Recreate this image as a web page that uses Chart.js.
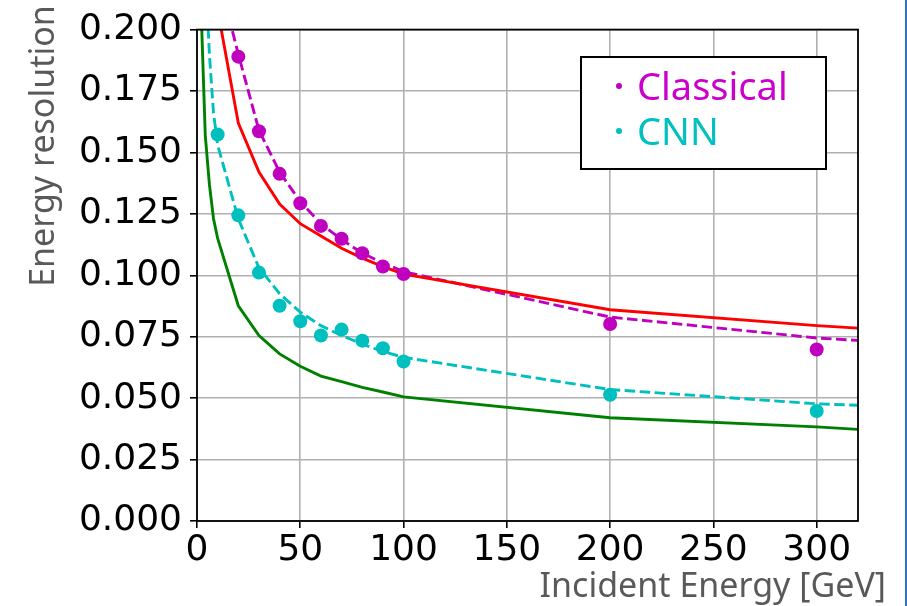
<!DOCTYPE html>
<html><head><meta charset="utf-8">
<script src="https://cdn.jsdelivr.net/npm/chart.js@4.4.0/dist/chart.umd.min.js"></script>
<style>html,body{margin:0;padding:0;background:#fff;overflow:hidden}</style>
</head><body>
<canvas id="c" width="907" height="606"></canvas>
<script>
// Measured points
const energies = [10, 20, 30, 40, 50, 60, 70, 80, 90, 100, 200, 300];
const classicalPoints = [null, 0.189, 0.1586, 0.1413, 0.1293, 0.1201, 0.1149, 0.1090, 0.1036, 0.1005, 0.0802, 0.0698];
const cnnPoints = [0.1573, 0.1244, 0.1011, 0.0876, 0.0813, 0.0755, 0.0779, 0.0734, 0.0703, 0.0649, 0.0514, 0.0448];
// Curves
const curveEnergies = [2, 4, 6, 8, 10, 20, 30, 40, 50, 60, 70, 80, 90, 100, 200, 300, 320];
const redSolid = [null, null, null, null, 0.208, 0.162, 0.142, 0.129, 0.121, 0.116, 0.111, 0.107, 0.1035, 0.1005, 0.086, 0.0795, 0.0785];
const classicalDashed = [null, null, null, null, 0.223, 0.190, 0.159, 0.142, 0.130, 0.121, 0.1145, 0.109, 0.105, 0.1015, 0.083, 0.0745, 0.0735];
const cnnDashed = [null, 0.225, 0.190, 0.166, 0.153, 0.123, 0.103, 0.0925, 0.085, 0.0795, 0.0755, 0.072, 0.069, 0.0666, 0.0535, 0.0477, 0.0471];
const greenSolid = [0.208, 0.157, 0.137, 0.123, 0.115, 0.0876, 0.0755, 0.068, 0.063, 0.059, 0.0567, 0.0544, 0.0525, 0.0505, 0.042, 0.0383, 0.0373];
// Ticks and labels
const xTicks = [0, 50, 100, 150, 200, 250, 300];
const yTicks = [0, 0.025, 0.05, 0.075, 0.1, 0.125, 0.15, 0.175, 0.2];
const xTitle = 'Incident Energy [GeV]';
const yTitle = 'Energy resolution';
const legendLabels = ['Classical', 'CNN'];

const toXY = (xs, ys) => xs.map((x, i) => ({x: x, y: ys[i]})).filter(p => p.y !== null);

const MAG = '#bf00bf', CYA = '#00bfbf';

const deco = {
  id: 'deco',
  afterDraw(chart) {
    const ctx = chart.ctx, a = chart.chartArea;
    ctx.save();
    // spines
    ctx.strokeStyle = '#000'; ctx.lineWidth = 1.8;
    ctx.strokeRect(a.left, a.top, a.right - a.left, a.bottom - a.top);
    // legend
    ctx.fillStyle = '#fff';
    ctx.fillRect(581, 57, 245, 112);
    ctx.lineWidth = 2; ctx.strokeStyle = '#000';
    ctx.strokeRect(581, 57, 245, 112);
    const cols = [MAG, CYA], textCols = ['#cc00cc', '#00c0c0'], ys = [86, 131];
    ctx.font = '38px "Noto Sans"';
    ctx.textBaseline = 'middle'; ctx.textAlign = 'left';
    legendLabels.forEach((t, i) => {
      ctx.fillStyle = cols[i];
      ctx.beginPath(); ctx.arc(619, ys[i], 3, 0, Math.PI * 2); ctx.fill();
      ctx.fillStyle = textCols[i];
      ctx.fillText(t, 637, ys[i] + 3);
    });
    // axis titles
    ctx.fillStyle = '#595959';
    ctx.font = '34px "Noto Sans"';
    ctx.textAlign = 'right'; ctx.textBaseline = 'alphabetic';
    ctx.fillText(xTitle, 886, 597);
    ctx.translate(54, 146);
    ctx.rotate(-Math.PI / 2);
    ctx.textAlign = 'center';
    ctx.fillText(yTitle, 0, 0);
    ctx.restore();
    // slide edge
    ctx.fillStyle = '#2e75c0';
    ctx.fillRect(905, 0, 2, 606);
  }
};

const lineDs = (label, xs, ys, color, dashed) => ({
  label, data: toXY(xs, ys), showLine: true, borderColor: color, borderWidth: 2.9,
  borderDash: dashed ? [10.5, 4.5] : [], pointRadius: 0, fill: false, tension: 0
});
const ptDs = (label, xs, ys, color) => ({
  label, data: toXY(xs, ys), showLine: false, backgroundColor: color, borderColor: color,
  borderWidth: 0, pointRadius: 7
});

new Chart(document.getElementById('c'), {
  type: 'scatter',
  data: {
    datasets: [
      ptDs(legendLabels[0], energies, classicalPoints, MAG),
      ptDs(legendLabels[1], energies, cnnPoints, CYA),
      lineDs('red', curveEnergies, redSolid, '#ff0000', false),
      lineDs('classical fit', curveEnergies, classicalDashed, MAG, true),
      lineDs('cnn fit', curveEnergies, cnnDashed, CYA, true),
      lineDs('green', curveEnergies, greenSolid, '#008000', false)
    ]
  },
  options: {
    responsive: false, animation: false, devicePixelRatio: 1,
    layout: {padding: {top: 28, right: 49, left: 0, bottom: 0}},
    plugins: {legend: {display: false}, tooltip: {enabled: false}},
    scales: {
      x: {
        type: 'linear', min: 0, max: 320,
        afterBuildTicks: s => { s.ticks = xTicks.map(v => ({value: v})); },
        afterFit: s => { s.height = 85; },
        grid: {color: '#b0b0b0', lineWidth: 1.6, tickColor: '#000', tickLength: 7, tickWidth: 1.6},
        border: {display: false},
        ticks: {color: '#000', font: {family: 'DejaVu Sans', size: 36}, padding: 1, maxRotation: 0, autoSkip: false}
      },
      y: {
        type: 'linear', min: 0, max: 0.2,
        afterBuildTicks: s => { s.ticks = yTicks.map(v => ({value: v})); },
        afterFit: s => { s.width = 197; },
        grid: {color: '#b0b0b0', lineWidth: 1.6, tickColor: '#000', tickLength: 7, tickWidth: 1.6},
        border: {display: false},
        ticks: {color: '#000', font: {family: 'DejaVu Sans', size: 36}, padding: 8, autoSkip: false,
          callback: v => v.toFixed(3)}
      }
    }
  },
  plugins: [deco]
});
</script>
</body></html>
